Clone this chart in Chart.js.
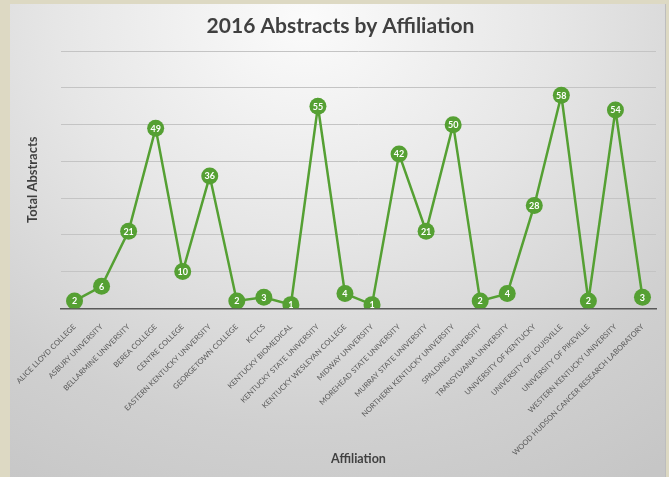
<!DOCTYPE html>
<html>
<head>
<meta charset="utf-8">
<script src="https://cdn.jsdelivr.net/npm/chart.js@4/dist/chart.umd.min.js"></script>
<style>
  html, body { margin: 0; padding: 0; }
  body { width: 669px; height: 477px; background: #ddd9c3; position: relative; overflow: hidden; }
  #panel {
    position: absolute; left: 10px; top: 4px; width: 655px; height: 473px;
    border-right: 1px solid #bdbdbd;
    background: radial-gradient(ellipse 95% 115% at 45% 3%, #fbfbfb 0%, #e6e6e6 40%, #d0d0d0 75%, #c6c6c6 100%);
  }
  canvas { display: block; }
</style>
</head>
<body>
<div id="panel"><canvas id="chart" width="655" height="473"></canvas></div>
<script>
const categories = [
  'ALICE LLOYD COLLEGE', 'ASBURY UNIVERSITY', 'BELLARMINE UNIVERSITY', 'BEREA COLLEGE',
  'CENTRE COLLEGE', 'EASTERN KENTUCKY UNIVERSITY', 'GEORGETOWN COLLEGE', 'KCTCS',
  'KENTUCKY BIOMEDICAL', 'KENTUCKY STATE UNIVERSITY', 'KENTUCKY WESLEYAN COLLEGE',
  'MIDWAY UNIVERSITY', 'MOREHEAD STATE UNIVERSITY', 'MURRAY STATE UNIVERSITY',
  'NORTHERN KENTUCKY UNIVERSITY', 'SPALDING UNIVERSITY', 'TRANSYLVANIA UNIVERSITY',
  'UNIVERSITY OF KENTUCKY', 'UNIVERSITY OF LOUISVILLE', 'UNIVERSITY OF PIKEVILLE',
  'WESTERN KENTUCKY UNIVERSITY', 'WOOD HUDSON CANCER RESEARCH LABORATORY'
];
const totals = [2, 6, 21, 49, 10, 36, 2, 3, 1, 55, 4, 1, 42, 21, 50, 2, 4, 28, 58, 2, 54, 3];
const yMax = 70;
const yStep = 10;

const green = '#55a033';

// white numbers inside each marker
const pointLabels = {
  id: 'pointLabels',
  afterDatasetsDraw(chart) {
    const ctx = chart.ctx;
    const meta = chart.getDatasetMeta(0);
    ctx.save();
    ctx.fillStyle = '#ffffff';
    ctx.font = 'bold 9px Lato, sans-serif';
    ctx.textAlign = 'center';
    ctx.textBaseline = 'middle';
    meta.data.forEach((pt, i) => {
      ctx.fillText(String(totals[i]), pt.x, pt.y + 0.5);
    });
    ctx.restore();
  }
};

new Chart(document.getElementById('chart'), {
  type: 'line',
  data: {
    labels: categories,
    datasets: [{
      data: totals,
      borderColor: green,
      borderWidth: 2.5,
      backgroundColor: green,
      pointBackgroundColor: green,
      pointBorderColor: green,
      pointRadius: 8.5,
      pointBorderWidth: 0,
      tension: 0,
      fill: false
    }]
  },
  options: {
    responsive: false,
    animation: false,
    layout: { padding: { left: 15, right: 9, top: 0, bottom: 8 } },
    plugins: {
      legend: { display: false },
      tooltip: { enabled: false },
      title: {
        display: true,
        text: '2016 Abstracts by Affiliation',
        color: '#404040',
        font: { family: 'Lato', size: 21, weight: 'bold' },
        padding: { top: 10, bottom: 12 }
      }
    },
    scales: {
      x: {
        offset: true,
        grid: { display: false },
        border: { display: true, color: '#595959', width: 1.5 },
        ticks: {
          color: '#595959',
          font: { family: 'Lato', size: 7.5 },
          minRotation: 45,
          maxRotation: 45,
          autoSkip: false,
          padding: 6
        },
        title: {
          display: true,
          text: 'Affiliation',
          color: '#404040',
          font: { family: 'Lato', size: 12.5, weight: 'bold' },
          padding: { top: 4, bottom: 3 }
        },
        afterFit(scale) { scale.height = 160.7; }
      },
      y: {
        min: 0,
        max: yMax,
        ticks: { display: false, stepSize: yStep },
        grid: { color: '#c4c4c4', lineWidth: 1, drawTicks: false },
        border: { display: false },
        title: {
          display: true,
          text: 'Total Abstracts',
          color: '#404040',
          font: { family: 'Lato', size: 13, weight: 'bold' },
          padding: 0
        },
        afterFit(scale) { scale.width = 36; }
      }
    }
  },
  plugins: [pointLabels]
});
</script>
</body>
</html>
